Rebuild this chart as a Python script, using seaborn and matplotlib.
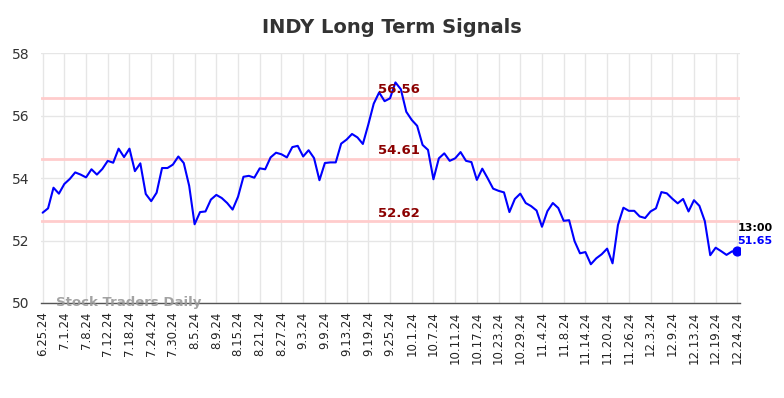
import matplotlib
matplotlib.use("Agg")
import matplotlib.pyplot as plt
import seaborn as sns
import numpy as np
import pandas as pd

tick_labels = ["6.25.24", "7.1.24", "7.8.24", "7.12.24", "7.18.24", "7.24.24", "7.30.24",
               "8.5.24", "8.9.24", "8.15.24", "8.21.24", "8.27.24", "9.3.24", "9.9.24",
               "9.13.24", "9.19.24", "9.25.24", "10.1.24", "10.7.24", "10.11.24", "10.17.24",
               "10.23.24", "10.29.24", "11.4.24", "11.8.24", "11.14.24", "11.20.24",
               "11.26.24", "12.3.24", "12.9.24", "12.13.24", "12.19.24", "12.24.24"]

prices = [52.89, 53.03, 53.69, 53.50, 53.81, 53.97, 54.18, 54.11, 54.02, 54.28,
          54.11, 54.29, 54.55, 54.49, 54.94, 54.67, 54.94, 54.22, 54.47, 53.49,
          53.26, 53.53, 54.32, 54.32, 54.43, 54.69, 54.48, 53.75, 52.52, 52.91,
          52.93, 53.31, 53.46, 53.36, 53.20, 52.99, 53.40, 54.04, 54.07, 54.01,
          54.31, 54.28, 54.66, 54.81, 54.76, 54.66, 54.99, 55.03, 54.69, 54.89,
          54.64, 53.93, 54.48, 54.50, 54.50, 55.10, 55.23, 55.41, 55.30, 55.09,
          55.71, 56.38, 56.74, 56.46, 56.55, 57.06, 56.84, 56.12, 55.86, 55.67,
          55.06, 54.90, 53.96, 54.63, 54.79, 54.55, 54.63, 54.83, 54.55, 54.51,
          53.94, 54.30, 53.99, 53.66, 53.59, 53.54, 52.91, 53.33, 53.50, 53.20,
          53.10, 52.96, 52.44, 52.94, 53.20, 53.04, 52.63, 52.65, 51.98, 51.59,
          51.63, 51.24, 51.43, 51.56, 51.74, 51.27, 52.50, 53.05, 52.95, 52.95,
          52.77, 52.72, 52.93, 53.03, 53.55, 53.51, 53.34, 53.19, 53.33, 52.93,
          53.29, 53.11, 52.62, 51.53, 51.77, 51.66, 51.54, 51.65, 51.65]

signal_levels = [56.56, 54.61, 52.62]
last_time = "13:00"
title = "INDY Long Term Signals"
watermark = "Stock Traders Daily"

df = pd.DataFrame({"idx": np.arange(len(prices)), "price": prices})

sns.set_style("white")
fig = plt.figure(figsize=(7.84, 3.98), dpi=100)
ax = fig.add_axes([0.0523, 0.2387, 0.8917, 0.628])

tick_pos = np.arange(0, len(prices), 4)
ax.set_xticks(tick_pos)
ax.set_xticklabels(tick_labels, rotation=90, fontsize=8.5, color="#222222", fontweight="medium")
ax.set_yticks([50, 52, 54, 56, 58])
ax.tick_params(axis="y", labelsize=10, colors="#333333", length=0, pad=8)
ax.tick_params(axis="x", length=0, pad=6)
ax.grid(True, color="#e6e6e6", linewidth=1)
ax.set_axisbelow(True)

for lvl in signal_levels:
    ax.axhline(lvl, color="#ffcccc", linewidth=2, zorder=1)
    ax.text(65.6, lvl + 0.05, f"{lvl:.2f}", color="#8b0000", fontsize=9.5,
            fontweight="bold", ha="center", va="bottom", zorder=4)

sns.lineplot(data=df, x="idx", y="price", ax=ax, color="#0000ff", linewidth=1.5, zorder=3)
ax.scatter([df["idx"].iloc[-1]], [df["price"].iloc[-1]], s=40, color="#0000ff", zorder=5)
ax.text(len(prices) - 1, prices[-1] + 0.33, f"{prices[-1]:.2f}", color="#0000ff",
        fontsize=8, fontweight="bold", ha="left", va="center")
ax.text(len(prices) - 1, prices[-1] + 0.75, last_time, color="#000000",
        fontsize=8, fontweight="bold", ha="left", va="center")

ax.text(2.4, 50.03, watermark, color="#999999", fontsize=9.5, fontweight="bold",
        ha="left", va="center", alpha=0.9)

ax.set_xlim(-0.3, 128.5)
ax.set_ylim(50, 58)
ax.set_xlabel("")
ax.set_ylabel("")
for s in ["top", "right", "left"]:
    ax.spines[s].set_visible(False)
ax.spines["bottom"].set_color("#555555")
ax.spines["bottom"].set_linewidth(1)

fig.suptitle(title, x=0.5, y=0.955, fontsize=14, fontweight="bold", color="#333333")
fig.savefig("out.png", dpi=100)
